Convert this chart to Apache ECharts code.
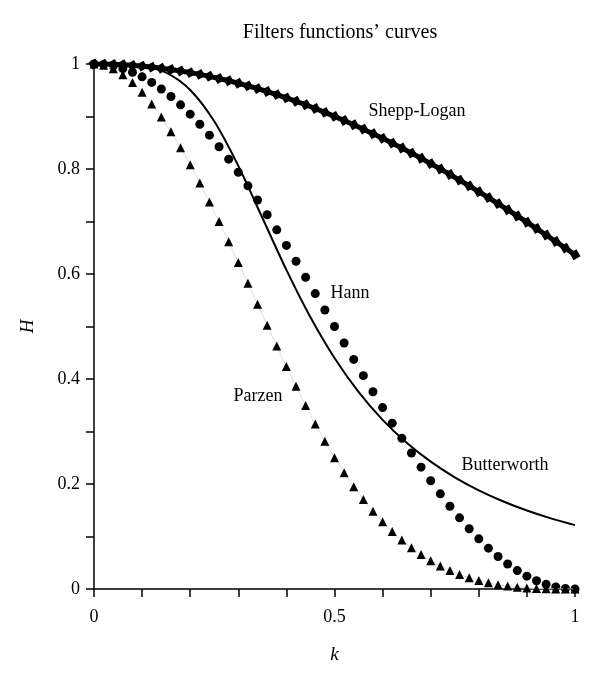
<!DOCTYPE html>
<html>
<head>
<meta charset="utf-8">
<title>Filters functions' curves</title>
<script src="https://cdn.jsdelivr.net/npm/echarts@6/dist/echarts.min.js"></script>
<style>
    html, body { margin: 0; padding: 0; background: #fff; }
    #main { width: 600px; height: 679px; }
</style>
</head>
<body>
<div id="main"></div>
<script>
// 采样点 k (步长 0.02)
var kValues = [0, 0.02, 0.04, 0.06, 0.08, 0.10, 0.12, 0.14, 0.16, 0.18,
    0.20, 0.22, 0.24, 0.26, 0.28, 0.30, 0.32, 0.34, 0.36, 0.38,
    0.40, 0.42, 0.44, 0.46, 0.48, 0.50, 0.52, 0.54, 0.56, 0.58,
    0.60, 0.62, 0.64, 0.66, 0.68, 0.70, 0.72, 0.74, 0.76, 0.78,
    0.80, 0.82, 0.84, 0.86, 0.88, 0.90, 0.92, 0.94, 0.96, 0.98, 1.00];

var sheppLogan = [1, 0.9998, 0.9993, 0.9985, 0.9974, 0.9959, 0.9941, 0.9920, 0.9895, 0.9867,
    0.9836, 0.9802, 0.9765, 0.9724, 0.9681, 0.9634, 0.9584, 0.9531, 0.9476, 0.9417,
    0.9355, 0.9290, 0.9223, 0.9152, 0.9079, 0.9003, 0.8925, 0.8843, 0.8759, 0.8673,
    0.8584, 0.8493, 0.8399, 0.8303, 0.8204, 0.8103, 0.8001, 0.7895, 0.7788, 0.7679,
    0.7568, 0.7455, 0.7341, 0.7224, 0.7106, 0.6987, 0.6865, 0.6743, 0.6618, 0.6493, 0.6366];

var hann = [1, 0.9990, 0.9961, 0.9911, 0.9843, 0.9755, 0.9649, 0.9524, 0.9382, 0.9222,
    0.9045, 0.8853, 0.8645, 0.8423, 0.8187, 0.7939, 0.7679, 0.7409, 0.7129, 0.6841,
    0.6545, 0.6243, 0.5937, 0.5627, 0.5314, 0.5000, 0.4686, 0.4373, 0.4063, 0.3757,
    0.3455, 0.3159, 0.2871, 0.2591, 0.2321, 0.2061, 0.1813, 0.1577, 0.1355, 0.1147,
    0.0955, 0.0778, 0.0619, 0.0476, 0.0351, 0.0245, 0.0157, 0.0089, 0.0039, 0.0010, 0];

var parzen = [1, 0.9977, 0.9908, 0.9797, 0.9647, 0.9460, 0.9240, 0.8989, 0.8710, 0.8406,
    0.8080, 0.7735, 0.7373, 0.6999, 0.6613, 0.6220, 0.5822, 0.5422, 0.5023, 0.4628,
    0.4240, 0.3861, 0.3495, 0.3144, 0.2812, 0.2500, 0.2212, 0.1947, 0.1704, 0.1482,
    0.1280, 0.1097, 0.0933, 0.0786, 0.0655, 0.0540, 0.0439, 0.0352, 0.0277, 0.0213,
    0.0160, 0.0117, 0.0082, 0.0055, 0.0035, 0.0020, 0.0010, 0.0004, 0.0001, 0, 0];

// Butterworth 实线 (步长 0.05)
var kButter = [0, 0.05, 0.10, 0.15, 0.20, 0.25, 0.30, 0.35, 0.40, 0.45,
    0.50, 0.55, 0.60, 0.65, 0.70, 0.75, 0.80, 0.85, 0.90, 0.95, 1.00];
var butterworth = [1, 0.9998, 0.9967, 0.9836, 0.9506, 0.8908, 0.8059, 0.7071, 0.6079, 0.5176,
    0.4400, 0.3754, 0.3221, 0.2785, 0.2425, 0.2128, 0.1880, 0.1672, 0.1495, 0.1345, 0.1216];

var xLabels = [0, 0.5, 1];
var yLabels = [0, 0.2, 0.4, 0.6, 0.8, 1];

var serif = '"Liberation Serif", "DejaVu Serif", serif';

/**
 * 把 x、y 两个数组拼成 [[x, y], ...]
 */
function zip(xs, ys) {
    var out = [];
    for (var i = 0; i < xs.length; i++) {
        out.push([xs[i], ys[i]]);
    }
    return out;
}

function hasLabel(list, v) {
    for (var i = 0; i < list.length; i++) {
        if (Math.abs(list[i] - v) < 1e-6) return true;
    }
    return false;
}

var axisCommon = {
    min: 0,
    max: 1,
    interval: 0.1,
    axisLine: {show: true, onZero: false, lineStyle: {color: '#000', width: 1.5}},
    axisTick: {show: true, inside: false, length: 8, lineStyle: {color: '#000', width: 1.5}},
    splitLine: {show: false}
};

var option = {
    animation: false,
    backgroundColor: '#fff',
    title: {
        text: 'Filters functions\u2019 curves',
        left: 335,
        top: 18,
        textAlign: 'center',
        textStyle: {fontFamily: serif, fontSize: 20, fontWeight: 'normal', color: '#000'}
    },
    grid: {left: 94, right: 25, top: 64, bottom: 90},
    xAxis: echarts.util.merge({
        type: 'value',
        name: 'k',
        nameLocation: 'middle',
        nameGap: 56,
        nameTextStyle: {fontFamily: serif, fontSize: 19, fontStyle: 'italic', color: '#000'},
        axisLabel: {
            margin: 19,
            fontFamily: serif,
            fontSize: 18,
            color: '#000',
            formatter: function (v) {
                return hasLabel(xLabels, v) ? String(+v.toFixed(1)) : '';
            }
        }
    }, axisCommon, true),
    yAxis: echarts.util.merge({
        type: 'value',
        name: 'H',
        nameLocation: 'middle',
        nameRotate: 90,
        nameGap: 57,
        nameTextStyle: {fontFamily: serif, fontSize: 19, fontStyle: 'italic', color: '#000'},
        axisLabel: {
            margin: 14,
            fontFamily: serif,
            fontSize: 18,
            color: '#000',
            formatter: function (v) {
                return hasLabel(yLabels, v) ? String(+v.toFixed(1)) : '';
            }
        }
    }, axisCommon, true),
    graphic: [
        {type: 'text', style: {text: 'Shepp-Logan', x: 417, y: 111, align: 'center', verticalAlign: 'middle', font: '18px ' + serif, fill: '#000'}},
        {type: 'text', style: {text: 'Hann', x: 350, y: 293, align: 'center', verticalAlign: 'middle', font: '18px ' + serif, fill: '#000'}},
        {type: 'text', style: {text: 'Parzen', x: 258, y: 396, align: 'center', verticalAlign: 'middle', font: '18px ' + serif, fill: '#000'}},
        {type: 'text', style: {text: 'Butterworth', x: 505, y: 465, align: 'center', verticalAlign: 'middle', font: '18px ' + serif, fill: '#000'}}
    ],
    series: [
        {
            name: 'Butterworth',
            type: 'line',
            smooth: 0.3,
            showSymbol: false,
            lineStyle: {color: '#000', width: 2},
            data: zip(kButter, butterworth)
        },
        {
            name: 'Parzen',
            type: 'line',
            symbol: 'triangle',
            symbolSize: 9,
            showAllSymbol: true,
            itemStyle: {color: '#000', opacity: 1},
            lineStyle: {color: '#ddd', width: 1},
            data: zip(kValues, parzen)
        },
        {
            name: 'Hann',
            type: 'scatter',
            symbol: 'circle',
            symbolSize: 9,
            itemStyle: {color: '#000', opacity: 1},
            data: zip(kValues, hann)
        },
        {
            name: 'Shepp-Logan',
            type: 'line',
            symbol: 'rect',
            symbolSize: 8,
            symbolRotate: 30,
            showAllSymbol: true,
            itemStyle: {color: '#000', opacity: 1},
            lineStyle: {color: '#000', width: 5},
            data: zip(kValues, sheppLogan)
        }
    ]
};

var chart = echarts.init(document.getElementById('main'));
chart.setOption(option);
</script>
</body>
</html>
